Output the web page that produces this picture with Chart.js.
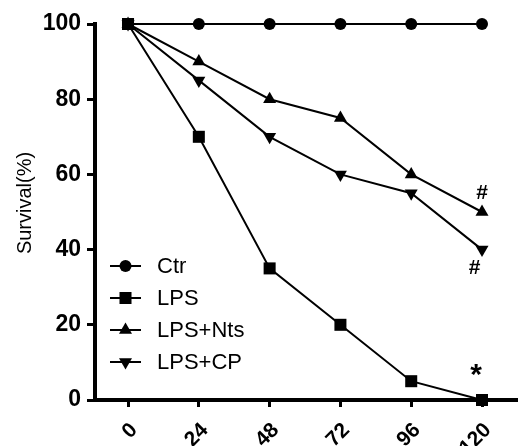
<!DOCTYPE html>
<html>
<head>
<meta charset="utf-8">
<script src="https://cdn.jsdelivr.net/npm/chart.js@4.4.1/dist/chart.umd.min.js"></script>
<style>
  html, body { margin: 0; padding: 0; background: #fff; }
  canvas { display: block; }
</style>
</head>
<body>
<canvas id="survivalChart" width="518" height="446"></canvas>
<script>
const hours = [0, 24, 48, 72, 96, 120];
const ctrValues = [100, 100, 100, 100, 100, 100];
const lpsValues = [100, 70, 35, 20, 5, 0];
const ntsValues = [100, 90, 80, 75, 60, 50];
const cpValues = [100, 85, 70, 60, 55, 40];
const seriesNames = ["Ctr", "LPS", "LPS+Nts", "LPS+CP"];
const yTicks = [0, 20, 40, 60, 80, 100];
const yTitle = "Survival(%)";
const noteText = ["#", "#", "*"];
const noteHour = [120, 117.5, 118];
const noteValue = [55, 35, 6.5];

const toPoints = vals => hours.map((h, i) => ({ x: h, y: vals[i] }));
const FONT = "'Liberation Sans', Arial, sans-serif";

// marker look per series
const markers = [
  { style: "circle", radius: 6, rotation: 0 },
  { style: "rect", radius: 8.5, rotation: 0 },
  { style: "triangle", radius: 7.5, rotation: 0 },
  { style: "triangle", radius: 7.5, rotation: 180 },
];

function makeSet(i, vals, order) {
  const m = markers[i];
  return {
    label: seriesNames[i],
    data: toPoints(vals),
    borderColor: "#000",
    backgroundColor: "#000",
    borderWidth: 2,
    pointStyle: m.style,
    pointRadius: m.radius,
    pointRotation: m.rotation,
    pointBorderWidth: 0,
    clip: false,
    order: order,
  };
}

function drawMarker(ctx, m, x, y) {
  const r = m.radius;
  ctx.beginPath();
  if (m.style === "circle") {
    ctx.arc(x, y, r, 0, Math.PI * 2);
  } else if (m.style === "rect") {
    const s = r * Math.SQRT1_2;
    ctx.rect(x - s, y - s, 2 * s, 2 * s);
  } else {
    let a = m.rotation * Math.PI / 180;
    for (let k = 0; k < 3; k++) {
      const px = x + Math.sin(a) * r, py = y - Math.cos(a) * r;
      k === 0 ? ctx.moveTo(px, py) : ctx.lineTo(px, py);
      a += 2 * Math.PI / 3;
    }
    ctx.closePath();
  }
  ctx.fill();
}

const extras = {
  id: "extras",
  afterDraw(chart) {
    const ctx = chart.ctx;
    const xs = chart.scales.x, ys = chart.scales.y;
    ctx.save();
    ctx.fillStyle = "#000";
    ctx.strokeStyle = "#000";

    // y title
    ctx.save();
    ctx.translate(25, 203);
    ctx.rotate(-Math.PI / 2);
    ctx.font = "20px " + FONT;
    ctx.textAlign = "center";
    ctx.textBaseline = "middle";
    ctx.fillText(yTitle, 0, 0);
    ctx.restore();

    // rotated hour labels
    ctx.font = "bold 21px " + FONT;
    ctx.textAlign = "right";
    ctx.textBaseline = "middle";
    hours.forEach(h => {
      const px = xs.getPixelForValue(h);
      ctx.save();
      ctx.translate(px + 6, 427);
      ctx.rotate(-Math.PI / 4);
      ctx.fillText(String(h), 0, 0);
      ctx.restore();
    });

    // legend inside plot
    seriesNames.forEach((name, i) => {
      const y = 266 + i * 32;
      ctx.lineWidth = 2;
      ctx.beginPath();
      ctx.moveTo(110, y);
      ctx.lineTo(141, y);
      ctx.stroke();
      drawMarker(ctx, markers[i], 125.5, y);
      ctx.font = "22px " + FONT;
      ctx.textAlign = "left";
      ctx.textBaseline = "middle";
      ctx.fillText(name, 157, y + 1);
    });

    // significance marks
    ctx.textAlign = "center";
    noteText.forEach((t, i) => {
      ctx.font = t === "*" ? "bold 30px " + FONT : "bold 21px " + FONT;
      ctx.fillText(t, xs.getPixelForValue(noteHour[i]), ys.getPixelForValue(noteValue[i]));
    });
    ctx.restore();
  }
};

const ctx = document.getElementById("survivalChart").getContext("2d");
new Chart(ctx, {
  type: "line",
  data: {
    datasets: [
      makeSet(0, ctrValues, 2),
      makeSet(1, lpsValues, 0),
      makeSet(2, ntsValues, 1),
      makeSet(3, cpValues, 1),
    ],
  },
  options: {
    responsive: false,
    animation: false,
    layout: { autoPadding: false, padding: { top: 24, right: 0, bottom: 0, left: 0 } },
    plugins: { legend: { display: false }, tooltip: { enabled: false } },
    scales: {
      x: {
        type: "linear",
        min: -11.2,
        max: 132.2,
        afterBuildTicks: axis => { axis.ticks = hours.map(v => ({ value: v })); },
        afterFit: axis => { axis.height = 46; },
        ticks: { display: false },
        grid: { drawOnChartArea: false, drawTicks: true, tickLength: 7, tickWidth: 3, tickColor: "#000" },
        border: { display: true, color: "#000", width: 4 },
      },
      y: {
        min: 0,
        max: 100,
        afterBuildTicks: axis => { axis.ticks = yTicks.map(v => ({ value: v })); },
        afterFit: axis => { axis.width = 95; },
        ticks: {
          color: "#000",
          padding: 6,
          font: { family: FONT, size: 23, weight: "bold" },
        },
        grid: { drawOnChartArea: false, drawTicks: true, tickLength: 8, tickWidth: 3, tickColor: "#000" },
        border: { display: true, color: "#000", width: 4 },
      },
    },
  },
  plugins: [extras],
});
</script>
</body>
</html>
